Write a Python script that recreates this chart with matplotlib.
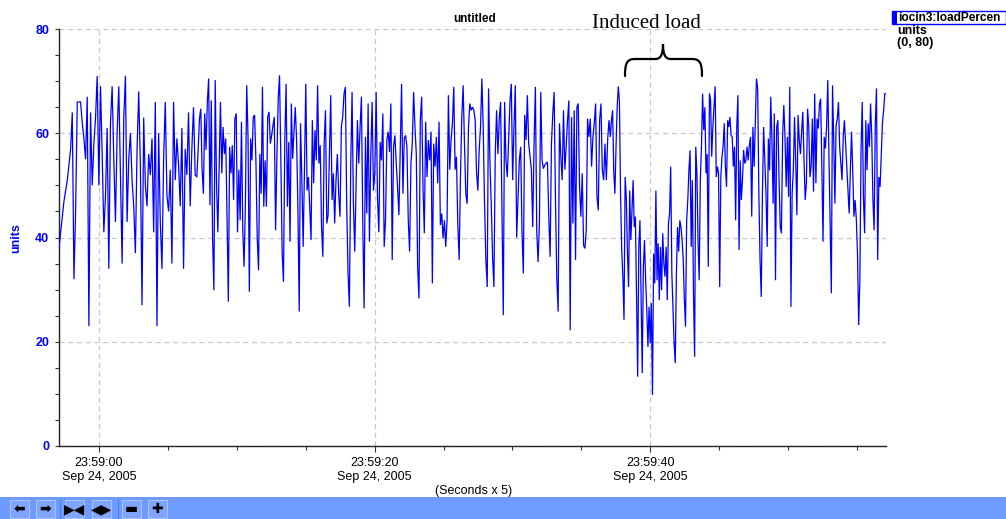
import numpy as np
import matplotlib
matplotlib.use("Agg")
import matplotlib.pyplot as plt
from matplotlib.ticker import MultipleLocator, FixedLocator, FuncFormatter
from matplotlib.path import Path
from matplotlib.patches import PathPatch, Rectangle
from matplotlib.transforms import Affine2D

# ---- data: loadPercent samples, six consecutive 10-second segments ----
seg1 = [38, 41, 44, 47, 49, 51, 54, 57, 64, 32, 45, 66, 66, 66, 62, 59, 55, 67, 23, 64, 50, 58, 63, 71, 50,
        69, 56, 41, 48, 61, 34, 62, 69, 55, 43, 60, 69, 52, 35, 63, 71, 43, 55, 60, 51, 46, 37, 57, 68, 54,
        27, 63, 50, 46, 56, 52, 59, 41, 66, 23, 60, 43, 34, 55, 66, 48, 45, 53, 35, 66, 51, 59, 54, 46, 61,
        34, 57, 52, 64, 46, 57, 65, 52]
seg2 = [51.6, 56.8, 62.8, 64.7, 53, 48.4, 63.8, 56.8, 66, 70.5, 46.2, 66.3, 40, 29.9, 70.2, 50.4, 41, 53.6,
        66, 52.3, 61.2, 56, 59, 44, 27.7, 57.4, 52.3, 57.7, 47.2, 62.8, 63.8, 41, 53, 43.3, 62.2, 41.4, 34.4,
        46.5, 69.2, 59.3, 29.6, 59, 54.8, 63.1, 63.5, 54.8, 40, 33.7, 56, 48.4, 68.9, 45.9, 54.8, 45.9, 63.1,
        64.1, 58, 59.6, 61.5, 63.1, 41.4, 55.5, 66.6, 71.1, 54.8, 37, 31.5, 58.3, 69.5, 45.9, 58.3, 39.2,
        65.7, 55.1, 60.3, 65, 58.7, 45.6, 25.8, 61.9, 51.3, 38.2, 53.2, 69.5, 49, 51.6, 45.9, 39.5, 62.5,
        50.4, 60.6, 54.8, 69.2, 54.2, 57.7, 42, 36.3, 58, 64.4, 42.7, 44.3, 55.5, 67.3, 47.2, 52.3]
seg3 = [42.7, 51, 56, 48.4, 44, 61.2, 63.1, 67.6, 68.9, 45.9, 33.1, 26.7, 53.6, 67.9, 46.5, 37.3, 49.7, 62.5,
        54.2, 61.2, 67, 42.7, 26.4, 59.3, 44.6, 65.7, 39.2, 56, 66, 49, 52.3, 67.9, 47.8, 41, 58.3, 54.8,
        63.8, 38.2, 43.3, 58.7, 60.3, 56.4, 65.7, 35.7, 57.4, 59.6, 54.2, 49.7, 44.3, 56.8, 69.5, 48.4, 59,
        59.6, 57.4, 43.3, 37.3, 54.2, 58, 67.9, 61.2, 56, 34.4, 28.3, 62.5, 67, 49.7, 40.8, 62.2, 51.6, 58.7,
        54.8, 60.3, 31.2, 58, 53.6, 59.3, 50.4, 62.2, 42.4, 44.6, 39.8, 43.3, 38.2, 43.3, 67.3, 53, 58.7,
        61.9, 68.9, 53, 55.5, 42.7, 35.7, 51.6, 63.1, 69.2, 58, 48.4, 46.5, 61.2, 65.7, 64.4]
seg4 = [65, 64.4, 62.5, 52.6, 49, 56.8, 61.2, 70.5, 61.2, 46.5, 35.7, 30.5, 68.6, 54.8, 46.5, 36.3, 30.5, 56,
        64.4, 56, 62.8, 66, 45.9, 25.1, 66, 54.8, 51.6, 58.7, 66, 69.5, 51, 61.2, 69.2, 40, 47.2, 54.8, 57.4,
        40.8, 33.1, 63.5, 58.7, 67.3, 58, 55.5, 53, 42, 58, 68.9, 41.4, 35.3, 42.7, 67.9, 54.8, 53.2, 53.9,
        54.2, 54.5, 44, 36.3, 58, 63.8, 67.9, 47.2, 32.1, 25.8, 61.9, 55.5, 51, 64.4, 53, 57.4, 62.5, 66.3,
        22.2, 63.1, 42.7, 64.4, 35.7, 65, 65.7, 49.7, 44, 52.3, 38.5, 37.9, 41.4, 62.8, 59.3, 62.8, 53.6,
        59.3, 61.9, 65.7, 47.8, 45.2, 62.5, 65.7, 53, 51, 58, 51, 58.7, 62.5]
seg5 = [59.3, 62.5, 64.4, 52.6, 48.4, 57.4, 65, 69, 66, 47.8, 37.6, 32.5, 24.2, 51.6, 47.8, 37.3, 30.5, 49,
        39.5, 45.2, 51, 42, 44, 28, 13.3, 38.2, 43.3, 29.3, 14, 34.4, 39.5, 31.8, 26.1, 19, 26.7, 19.7, 27.4,
        9.8, 36.9, 31.2, 49, 31.8, 38.9, 28, 38.2, 29.9, 40.8, 35, 32.5, 38.2, 28, 42.7, 44.6, 53.6, 33.1,
        26.7, 19.7, 15.9, 33.1, 42, 37.3, 43.3, 42, 39.5, 35.7, 28, 22.9, 43.3, 47.2, 53, 56.7, 38.2, 51,
        29.3, 17.1, 57.4, 52.3, 39.5, 31.8, 51, 57.4, 67.6, 60.6, 65, 52.3, 56, 34.4, 67.6, 66.3, 55.5, 61.2,
        65, 69, 51.6, 53.6, 52.3, 30.5, 51.6, 55.5, 57.4, 61.9, 53.6, 49.7, 62.5, 61.2, 63.1, 59.6, 59.3,
        53.6, 57.4, 43.3, 61.2, 67.3, 37.6, 54.8, 47.2, 51, 56.8, 54.2, 54.8, 57.4]
seg6 = [54.8, 57.7, 59.3, 44, 61.2, 53.6, 61.9, 70.5, 68.6, 48.4, 35.7, 28.6, 48.4, 61.2, 54.8, 48.4, 38.2,
        59, 52.9, 67, 58.7, 46.5, 63.8, 31.8, 61.2, 62.5, 51, 42, 40.8, 59.3, 65.4, 59.3, 49.7, 59.3, 47.8,
        68.9, 26.7, 48.4, 52.9, 63.1, 54.8, 44.3, 63.5, 58.7, 56, 60.3, 64.1, 54.8, 47.2, 50.4, 64.7, 61.2,
        51.6, 53.6, 62.8, 48.8, 67.6, 50.4, 62.8, 60.9, 65.7, 66.6, 53.6, 39.2, 59.3, 57.1, 61.2, 70.2, 55.5,
        42.7, 29.3, 69.2, 58.7, 46.5, 61.5, 62.8, 66, 57.4, 54.2, 51, 59.3, 62.5, 58, 53.6, 49, 44.6, 52.9,
        60.3, 52.9, 44, 47.2, 43.6, 37, 23.2, 31.8, 56.8, 66, 47.8, 40.8, 62.5, 52.9, 61.9, 57.4, 65.7,
        59.6, 47.2, 41.4, 61.9, 68.6, 35.7, 51.6, 49.7, 56, 61.9, 64.4, 67.6, 67.6]
segments = [seg1, seg2, seg3, seg4, seg5, seg6]
segment_seconds = 10.0
start_offset = -2.9          # seconds relative to 23:59:00
x_major = [0, 20, 40]
y_major = [0, 20, 40, 60, 80]

# ---- build time axis ----
times, values = [], []
for k, seg in enumerate(segments):
    s0 = start_offset + k * segment_seconds
    last = (k == len(segments) - 1)
    t = np.linspace(s0, s0 + segment_seconds, len(seg), endpoint=last)
    times.extend(t)
    values.extend(seg)
times = np.array(times)
values = np.array(values, dtype=float)

W, H = 1006, 519
fig = plt.figure(figsize=(W / 100, H / 100), dpi=100)
fig.patch.set_facecolor("white")

def fx(px):
    return px / W

def fy(py):
    return 1 - py / H

ax = fig.add_axes([fx(59), fy(446), fx(886) - fx(59), fy(29) - fy(446)])
ax.plot(times, values, color="#0000ff", lw=0.9, solid_joinstyle="miter", zorder=3)

ax.set_xlim(start_offset, start_offset + segment_seconds * len(segments))
ax.set_ylim(0, 80)

for s in ["top", "right"]:
    ax.spines[s].set_visible(False)
ax.spines["left"].set_color("#222222")
ax.spines["bottom"].set_color("#222222")
ax.spines["left"].set_linewidth(1.0)
ax.spines["bottom"].set_linewidth(1.0)

ax.xaxis.set_major_locator(FixedLocator(x_major))
ax.xaxis.set_minor_locator(MultipleLocator(5))
ax.yaxis.set_major_locator(FixedLocator(y_major))
ax.yaxis.set_minor_locator(MultipleLocator(5))

ax.xaxis.set_major_formatter(FuncFormatter(lambda t, p: f"23:59:{int(round(t)):02d}\nSep 24, 2005"))

ax.tick_params(axis="x", which="major", length=4, width=0.8, color="#333333", pad=4,
               labelsize=9, labelcolor="black")
ax.tick_params(axis="x", which="minor", length=3, width=0.8, color="#333333")
ax.tick_params(axis="y", which="major", length=3, width=0.8, color="#333333", pad=4,
               labelsize=9, labelcolor="#0000ff")
ax.tick_params(axis="y", which="minor", length=3, width=0.8, color="#333333")
for lab in ax.get_xticklabels():
    lab.set_fontfamily("Liberation Sans")
for lab in ax.get_yticklabels():
    lab.set_fontfamily("Liberation Sans")
    lab.set_fontweight("bold")

ax.grid(True, which="major", color="#c8c8c8", lw=0.9, linestyle=(0, (4, 3)), zorder=0)
ax.set_axisbelow(True)

# labels & title
fig.text(fx(16), fy(238), "units", rotation=90, ha="center", va="center", color="#0000ff",
         fontsize=9, fontweight="bold", family="Liberation Sans")
fig.text(fx(474), fy(491), "(Seconds x 5)", ha="center", va="center", color="black",
         fontsize=9, family="Liberation Sans")
fig.text(fx(475), fy(19), "untitled", ha="center", va="center", color="black",
         fontsize=8.5, fontweight="bold", family="Liberation Sans")

# annotation: Induced load with a curly brace
fig.text(fx(646), fy(23), "Induced load", ha="center", va="center", color="black",
         fontsize=15, family="Liberation Serif")
verts = [(625, 76), (625, 63), (627, 59), (635, 59),
         (655, 59),
         (660, 59), (663, 56), (663, 44),
         (663, 56), (666, 59), (671, 59),
         (692, 59),
         (700, 59), (702, 63), (702, 76)]
codes = [Path.MOVETO, Path.CURVE4, Path.CURVE4, Path.CURVE4,
         Path.LINETO,
         Path.CURVE4, Path.CURVE4, Path.CURVE4,
         Path.CURVE4, Path.CURVE4, Path.CURVE4,
         Path.LINETO,
         Path.CURVE4, Path.CURVE4, Path.CURVE4]
pix2fig = Affine2D().scale(1 / W, -1 / H).translate(0, 1) + fig.transFigure
fig.patches.append(PathPatch(Path(verts, codes), transform=pix2fig, fill=False,
                             edgecolor="black", lw=1.6, capstyle="round"))

# legend at top-right
fig.patches.append(Rectangle((892, 11), 114, 13, transform=pix2fig, fill=False,
                             edgecolor="#0000ff", lw=1.0))
fig.patches.append(Rectangle((892, 11), 5, 13, transform=pix2fig, facecolor="#0000ff",
                             edgecolor="none"))
fig.text(fx(898), fy(18), "iocin3:loadPercen", ha="left", va="center", color="black",
         fontsize=8.6, fontweight="bold", family="Liberation Sans")
fig.text(fx(897), fy(31), "units", ha="left", va="center", color="black",
         fontsize=9, fontweight="bold", family="Liberation Sans")
fig.text(fx(897), fy(43), "(0, 80)", ha="left", va="center", color="black",
         fontsize=9, fontweight="bold", family="Liberation Sans")

# bottom toolbar
fig.patches.append(Rectangle((0, 497), W, 22, transform=pix2fig, facecolor="#6e9bff",
                             edgecolor="none"))
buttons = [(10, "⬅"), (36, "➡"), (65, "▶◀"), (92, "◀▶"), (122, "▬"), (148, "✚")]
for bx, glyph in buttons:
    fig.patches.append(Rectangle((bx, 500), 19, 18, transform=pix2fig, facecolor="#7ea6ff",
                                 edgecolor="#a9c3ff", lw=0.8))
    fig.text(fx(bx + 9.5), fy(509), glyph, ha="center", va="center", color="black",
             fontsize=10, fontweight="bold", family="DejaVu Sans")
for sx in (60, 118):
    fig.patches.append(Rectangle((sx, 499), 1, 20, transform=pix2fig, facecolor="#4f7fe0",
                                 edgecolor="none"))

fig.savefig("out.png", dpi=100, facecolor="white")
